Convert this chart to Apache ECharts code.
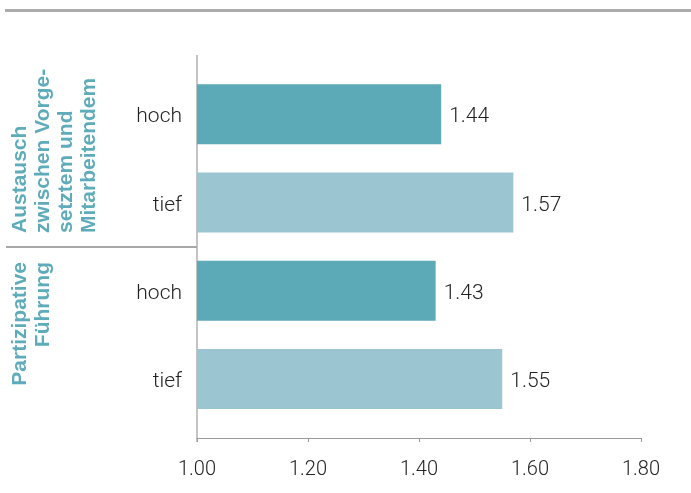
<!DOCTYPE html>
<html>
<head>
<meta charset="utf-8">
<script src="https://cdn.jsdelivr.net/npm/echarts@6/dist/echarts.min.js"></script>
<style>
  html, body { margin: 0; padding: 0; background: #fff; }
  #chart { width: 691px; height: 493px; }
</style>
</head>
<body>
<div id="chart"></div>
<script>
const categories = ['hoch', 'tief', 'hoch', 'tief']
const values = [1.44, 1.57, 1.43, 1.55]
const barColors = ['#5ca9b8', '#9bc6d1', '#5ca9b8', '#9bc6d1']
const xTicks = [1.0, 1.2, 1.4, 1.6, 1.8]
const groupLabels = [
    'Austausch\nzwischen Vorge-\nsetztem und\nMitarbeitendem',
    'Partizipative\nFührung'
]

const chart = echarts.init(document.getElementById('chart'))
const textFont = 'Roboto, "Liberation Sans", sans-serif'
const groupFont = '"Liberation Sans", Arial, sans-serif'
const groupColor = '#5eabba'

const option = {
    animation: false,
    grid: { left: 197, right: 50, top: 70, bottom: 70 },
    xAxis: {
        type: 'value',
        min: xTicks[0],
        max: xTicks[xTicks.length - 1],
        interval: 0.2,
        offset: 15,
        splitLine: { show: false },
        axisLine: { show: true, lineStyle: { color: '#9a9a9a', width: 1 } },
        axisTick: { show: true, length: 4, lineStyle: { color: '#9a9a9a' } },
        axisLabel: {
            margin: 22,
            fontSize: 20,
            fontFamily: textFont,
            fontWeight: 300,
            color: '#222',
            formatter: v => v.toFixed(2)
        }
    },
    yAxis: {
        type: 'category',
        data: categories,
        inverse: true,
        axisLine: { show: false },
        axisTick: { show: false },
        axisLabel: {
            margin: 15,
            formatter: v => '{c|' + v + '}',
            rich: {
                c: {
                    fontSize: 21,
                    fontFamily: textFont,
                    fontWeight: 300,
                    color: '#222',
                    padding: [6, 0, 0, 0]
                }
            }
        }
    },
    series: [{
        type: 'bar',
        barWidth: 60,
        data: values.map((v, i) => ({ value: v, itemStyle: { color: barColors[i] } })),
        label: {
            show: true,
            position: 'right',
            distance: 8,
            offset: [0, 3],
            fontSize: 21,
            fontFamily: textFont,
            fontWeight: 300,
            color: '#222',
            formatter: p => p.value.toFixed(2)
        }
    }],
    graphic: [
        // top rule
        { type: 'rect', shape: { x: 5, y: 9, width: 686, height: 3 }, style: { fill: '#ababab' } },
        // vertical axis line
        { type: 'rect', shape: { x: 196, y: 55, width: 2, height: 387 }, style: { fill: '#c4c4c4' } },
        // group separator
        { type: 'rect', shape: { x: 6, y: 246, width: 191, height: 2 }, style: { fill: '#a8a8a8' } },
        {
            type: 'text', x: 9, y: 233, rotation: Math.PI / 2,
            style: {
                text: groupLabels[0], align: 'left', verticalAlign: 'top',
                fontSize: 21, lineHeight: 23, fontWeight: 'bold',
                fontFamily: groupFont, fill: groupColor
            }
        },
        {
            type: 'text', x: 9, y: 262, rotation: Math.PI / 2,
            style: {
                text: groupLabels[1], align: 'right', verticalAlign: 'top',
                fontSize: 21, lineHeight: 23, fontWeight: 'bold',
                fontFamily: groupFont, fill: groupColor
            }
        }
    ]
}

chart.setOption(option)
</script>
</body>
</html>
